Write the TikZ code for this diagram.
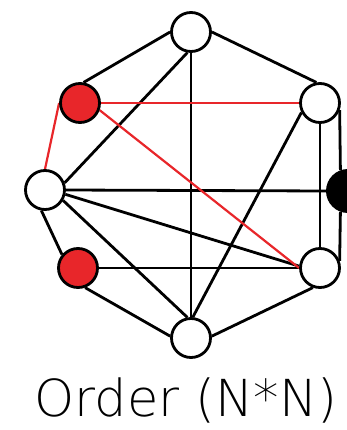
\documentclass[tikz,border=0pt]{standalone}
\usepackage{fontspec}
\newfontfamily\lightfont{DejaVu Sans ExtraLight}
\usetikzlibrary{backgrounds}
\definecolor{nodered}{RGB}{232,38,42}
\tikzset{
  vtx/.style={circle,draw=black,line width=2.8pt,fill=white,minimum size=39pt,inner sep=0pt},
  redvtx/.style={vtx,fill=nodered},
  blackvtx/.style={circle,fill=black,minimum size=44pt,inner sep=0pt},
  edge/.style={draw=black,line width=2.8pt},
  redge/.style={draw=nodered,line width=2.2pt},
}
\begin{document}
\begin{tikzpicture}[x=1pt,y=-1pt]
\useasboundingbox (0,0) rectangle (347,430);
\clip (0,0) rectangle (347,430);
\node[vtx] (T) at (191,32) {};
\node[redvtx] (UL) at (80,103) {};
\node[vtx] (UR) at (320,103) {};
\node[vtx] (L) at (45,190) {};
\node[blackvtx] (R) at (348,191) {};
\node[redvtx] (LL) at (78,268) {};
\node[vtx] (LR) at (320,268) {};
\node[vtx] (B) at (191,338) {};
\begin{scope}[on background layer]
  \draw[edge] (T.west) -- (UL.80);
  \draw[edge] (T.east) -- (UR.100);
  \draw[edge] (T.south) -- (B.north);
  \draw[edge] (T.-100) -- (L.20);
  \draw[edge] (UR.south) -- (LR.north);
  \draw[edge] (UR.-20) -- (R.110);
  \draw[edge] (R.-110) -- (LR.20);
  \draw[edge] (L.east) -- (R.west);
  \draw[edge] (L.-12) -- (LR.175);
  \draw[edge] (L.-30) -- (B.100);
  \draw[edge] (L.-100) -- (LL.140);
  \draw[edge] (UR.-153) -- (B.85);
  \draw[edge] (LL.east) -- (LR.west);
  \draw[edge] (LL.-70) -- (B.175);
  \draw[edge] (LR.-110) -- (B.5);
  \draw[redge] (L.north) -- (UL.west);
  \draw[redge] (UL.east) -- (UR.west);
  \draw[redge] (UL.-20) -- (LR.west);
\end{scope}
\node[anchor=base,inner sep=0pt,font=\lightfont\fontsize{51}{60}\selectfont] (lbl) at (186,416) {Order (N*N)};
\end{tikzpicture}
\end{document}
